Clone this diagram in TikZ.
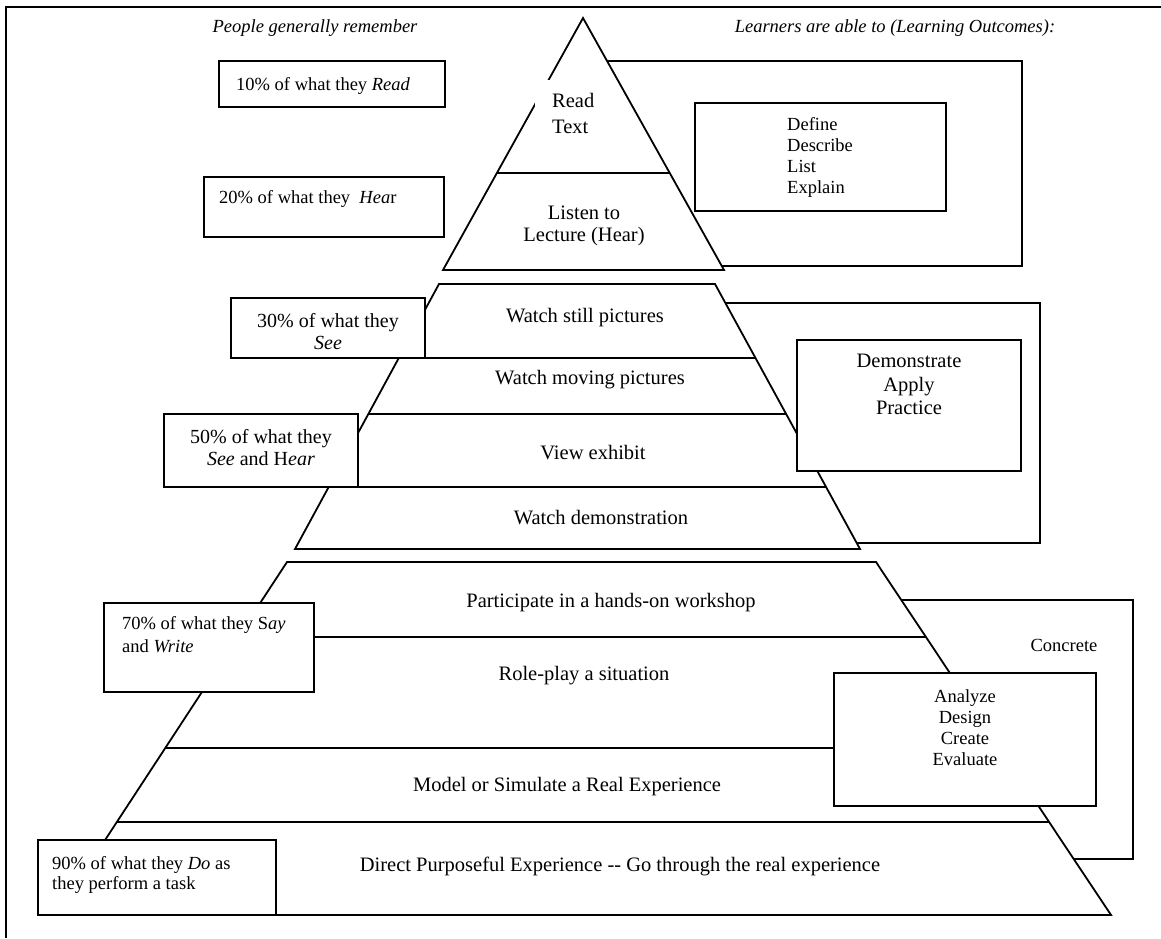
\documentclass[tikz,border=0pt]{standalone}
\usepackage{fontspec}
\setmainfont{Liberation Serif}
\begin{document}
\begin{tikzpicture}[x=1pt,y=-1pt]
\tikzstyle{edge}=[line width=1.8pt]
\tikzstyle{pbox}=[draw,fill=white,line width=1.8pt]
\tikzstyle{big}=[inner sep=0pt,align=center,font=\fontsize{20.5}{22}\selectfont]
\tikzstyle{small}=[inner sep=0pt,align=left,font=\fontsize{18.5}{21}\selectfont]
\tikzstyle{head}=[inner sep=0pt,font=\fontsize{18.5}{21}\selectfont\itshape]
\useasboundingbox (0,0) rectangle (1161,938);

\draw[line width=2.8pt] (6,938) -- (6,7) -- (1161,7);
\path (315,32) node[head,anchor=base](remember){People generally remember};
\path (895,32) node[head,anchor=base](outcomes){Learners are able to (Learning Outcomes):};

\draw[edge] (590,61) rectangle (1022,266);
\draw[edge] (700,303) rectangle (1040,543);
\draw[edge] (880,600) rectangle (1133,859);

\draw[edge,fill=white] (583,18) -- (724,270) -- (443,270) -- cycle;
\draw[edge] (497,173) -- (670,173);
\draw[edge,fill=white] (439,284) -- (715,284) -- (860,549) -- (295,549) -- cycle;
\draw[edge] (399,358) -- (756,358);
\draw[edge] (368,414) -- (786,414);
\draw[edge] (329,487) -- (826,487);
\draw[edge,fill=white] (287,562) -- (876,562) -- (1111,915) -- (56,915) -- cycle;
\draw[edge] (238,637) -- (926,637);
\draw[edge] (165,748) -- (1000,748);
\draw[edge] (117,822) -- (1049,822);

\draw[pbox] (219,61) rectangle (445,107);
\draw[pbox] (204,177) rectangle (444,237);
\draw[pbox] (231,298) rectangle (425,358);
\draw[pbox] (164,414) rectangle (358,487);
\draw[pbox] (104,603) rectangle (314,692);
\draw[pbox] (38,840) rectangle (276,915);
\draw[pbox] (695,103) rectangle (946,211);
\draw[pbox] (797,340) rectangle (1021,471);
\draw[pbox] (834,673) rectangle (1096,806);

\path (236,90) node[small,anchor=base west](read){10\% of what they \textit{Read}};
\path (219,203) node[small,anchor=base west](hear){20\% of what they~ \textit{Hea}r};
\path (328,313) node[big,anchor=north,font=\fontsize{20}{22}\selectfont](see){30\% of what they\\\textit{See}};
\path (261,429) node[big,anchor=north,font=\fontsize{20}{22}\selectfont](seehear){50\% of what they\\\textit{See} and H\textit{ear}};
\path (122,616) node[small,anchor=north west,font=\fontsize{18.5}{23}\selectfont](say){70\% of what they S\textit{ay}\\and \textit{Write}};
\path (52,856) node[small,anchor=north west,font=\fontsize{18.5}{20}\selectfont](do){90\% of what they \textit{Do} as\\they perform a task};

\path (535,80) node[big,anchor=north west,align=left,fill=white,inner xsep=17pt,inner ysep=13pt,font=\fontsize{20.5}{26}\selectfont](text){Read\\Text};
\path (584,206) node[big,anchor=north](lecture){Listen to\\Lecture (Hear)};
\path (585,322) node[big,anchor=base](still){Watch still pictures};
\path (590,384) node[big,anchor=base](moving){Watch moving pictures};
\path (593,459) node[big,anchor=base](exhibit){View exhibit};
\path (601,524) node[big,anchor=base](demo){Watch demonstration};
\path (611,607) node[big,anchor=base](workshop){Participate in a hands-on workshop};
\path (584,680) node[big,anchor=base](roleplay){Role-play a situation};
\path (567,791) node[big,anchor=base](model){Model or Simulate a Real Experience};
\path (620,871) node[big,anchor=base](direct){Direct Purposeful Experience -{}- Go through the real experience};

\path (787,117) node[small,anchor=north west](define){Define\\Describe\\List\\Explain};
\path (909,354) node[big,anchor=north,font=\fontsize{20.5}{23.5}\selectfont](apply){Demonstrate\\Apply\\Practice};
\path (965,689) node[small,anchor=north,align=center](analyze){Analyze\\Design\\Create\\Evaluate};
\path (1064,651) node[small,anchor=base](concrete){Concrete};
\end{tikzpicture}
\end{document}
